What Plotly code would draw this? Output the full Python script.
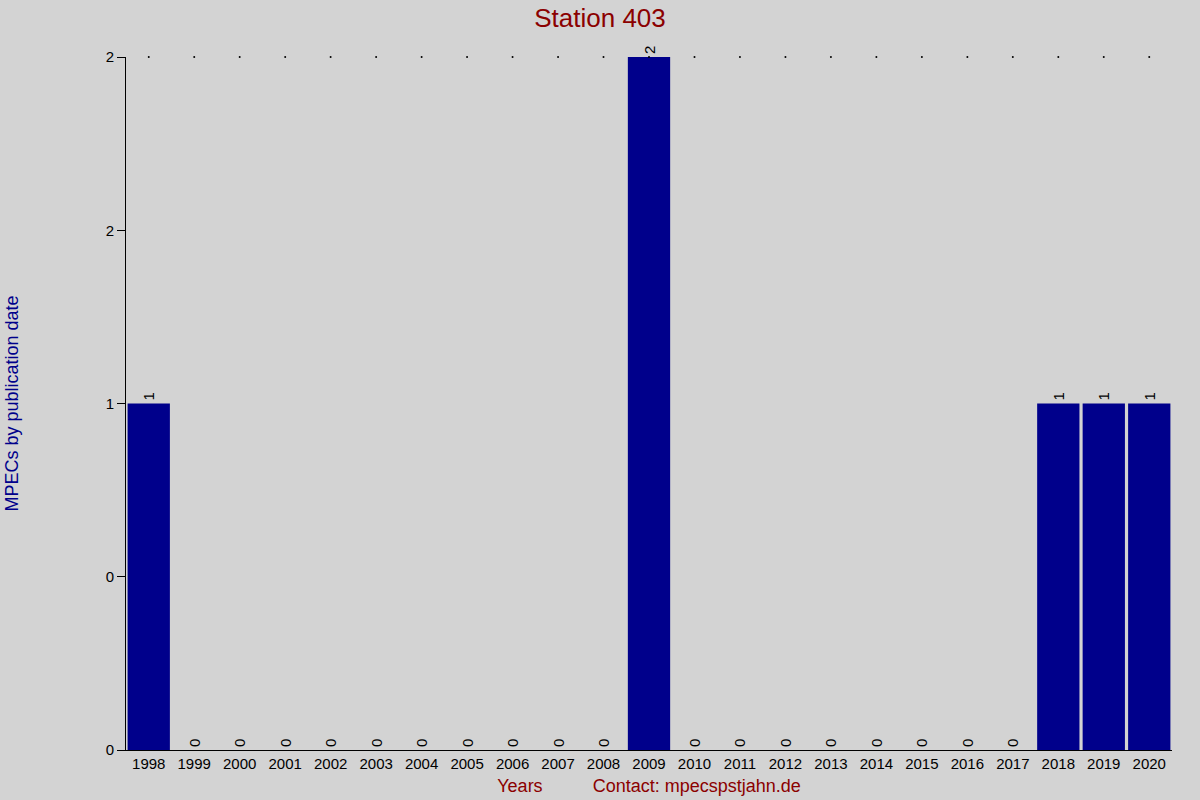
import plotly.graph_objects as go

# data
years = [str(y) for y in range(1998, 2021)]
mpec_counts = [1, 0, 0, 0, 0, 0, 0, 0, 0, 0, 0, 2,
               0, 0, 0, 0, 0, 0, 0, 0, 1, 1, 1]

# the y ticks of the original are rounded to integers
y_tick_values = [0, 0.5, 1, 1.5, 2]
y_tick_labels = ["0", "0", "1", "2", "2"]

BG = "#D3D3D3"
DARK_RED = "#8B0000"
DARK_BLUE = "#00008B"

fig = go.Figure()

# small dots along the top of the plot, one per year
fig.add_trace(go.Scatter(
    x=years,
    y=[max(mpec_counts)] * len(years),
    mode="markers",
    marker=dict(size=2, color="black"),
    hoverinfo="skip",
    showlegend=False,
    cliponaxis=False,
))

fig.add_trace(go.Bar(
    x=years,
    y=mpec_counts,
    marker=dict(color=DARK_BLUE, line=dict(width=0)),
    text=[str(v) for v in mpec_counts],
    textposition="outside",
    textangle=-90,
    constraintext="none",
    cliponaxis=False,
    textfont=dict(family="Liberation Sans, Arial", size=15, color="black"),
    showlegend=False,
))

nbsp = "\u00a0"
fig.update_layout(
    width=1200,
    height=800,
    paper_bgcolor=BG,
    plot_bgcolor=BG,
    margin=dict(l=126, r=28, t=57, b=50, autoexpand=False),
    bargap=0.07,
    font=dict(family="Liberation Sans, Arial", size=15, color="black"),
    title=dict(
        text="Station 403",
        x=0.5,
        xanchor="center",
        y=0.978,
        yanchor="middle",
        font=dict(size=26, color=DARK_RED),
    ),
    xaxis=dict(
        type="category",
        range=[-0.5, len(years) - 0.5],
        automargin=False,
        showgrid=False,
        showline=True,
        linecolor="black",
        linewidth=1,
        ticks="",
        tickfont=dict(size=15, color="black"),
        title=dict(
            text="Years" + nbsp * 10 + "Contact: mpecspstjahn.de",
            font=dict(size=18, color=DARK_RED),
            standoff=8,
        ),
    ),
    yaxis=dict(
        range=[0, 2],
        automargin=False,
        tickvals=y_tick_values,
        ticktext=y_tick_labels,
        showgrid=False,
        zeroline=False,
        showline=True,
        linecolor="black",
        linewidth=1,
        ticks="outside",
        ticklen=8,
        tickcolor="black",
        tickfont=dict(size=15, color="black"),
        title=dict(
            text="MPECs by publication date",
            font=dict(size=18, color=DARK_BLUE),
            standoff=82,
        ),
    ),
)

# drop the default page margin so the figure fills the window
fig.write_html(
    "out.html",
    config={"displayModeBar": False},
    post_script="document.body.style.margin = '0';",
)
